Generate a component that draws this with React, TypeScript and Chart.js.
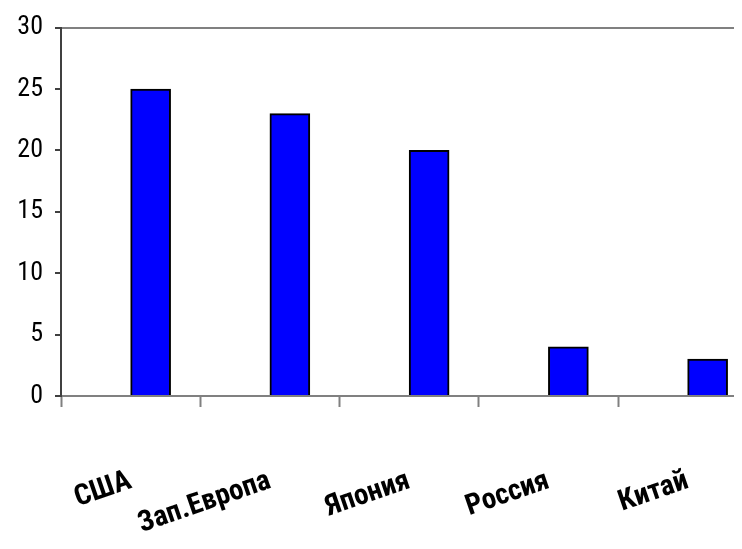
import React, { useEffect, useRef } from "react";
import { Chart, registerables } from "chart.js";

Chart.register(...registerables);

const categories = ["США", "Зап.Европа", "Япония", "Россия", "Китай"];
const values = [25, 23, 20, 4, 3];
// The original (Excel) chart has an empty first series, which shifts the bars right of each category centre.
const emptySeries = [null, null, null, null, null];
const yTicks = [0, 5, 10, 15, 20, 25, 30];

const NARROW = "'Roboto Condensed', 'Liberation Sans Narrow', 'DejaVu Sans Condensed', sans-serif";

export default function App() {
  const ref = useRef<HTMLCanvasElement | null>(null);

  useEffect(() => {
    if (!ref.current) return;
    const chart = new Chart(ref.current, {
      type: "bar",
      data: {
        labels: categories,
        datasets: [
          { label: "", data: emptySeries as any, backgroundColor: "#0000FF" },
          {
            label: "values",
            data: values,
            backgroundColor: "#0000FF",
            borderColor: "#000000",
            borderWidth: 2,
          },
        ],
      },
      options: {
        responsive: false,
        animation: false,
        layout: { padding: { top: 25, right: 42.75, bottom: 0, left: 0 } },
        datasets: { bar: { barThickness: 40 } },
        plugins: { legend: { display: false }, tooltip: { enabled: false }, title: { display: false } },
        scales: {
          x: {
            type: "category",
            offset: true,
            afterFit: (s: any) => {
              s.height = 153;
            },
            grid: {
              offset: true,
              drawOnChartArea: false,
              drawTicks: true,
              tickLength: 11,
              tickColor: "#808080",
              tickWidth: 2,
              color: "#808080",
            },
            border: { display: true, color: "#808080", width: 2 },
            ticks: {
              minRotation: 19,
              maxRotation: 19,
              autoSkip: false,
              padding: 57,
              color: "#000000",
              font: { family: NARROW, size: 29, weight: "bold" },
            },
          },
          y: {
            min: 0,
            max: 30,
            afterFit: (s: any) => {
              s.width = 61;
            },
            afterBuildTicks: (s: any) => {
              s.ticks = yTicks.map((v) => ({ value: v }));
            },
            grid: {
              drawOnChartArea: true,
              drawTicks: true,
              tickLength: 6,
              tickColor: "#404040",
              tickWidth: 2,
              lineWidth: 2,
              color: (ctx: any) => (ctx.tick && ctx.tick.value === 30 ? "#808080" : "rgba(0,0,0,0)"),
            },
            border: { display: true, color: "#404040", width: 2 },
            ticks: {
              padding: 12,
              color: "#000000",
              font: { family: NARROW, size: 26 },
            },
          },
        },
      },
    });
    return () => chart.destroy();
  }, []);

  return (
    <div style={{ position: "relative", width: 742, height: 549, overflow: "hidden", margin: -8, background: "#fff" }}>
      <canvas ref={ref} width={800} height={549} style={{ display: "block" }} />
    </div>
  );
}
